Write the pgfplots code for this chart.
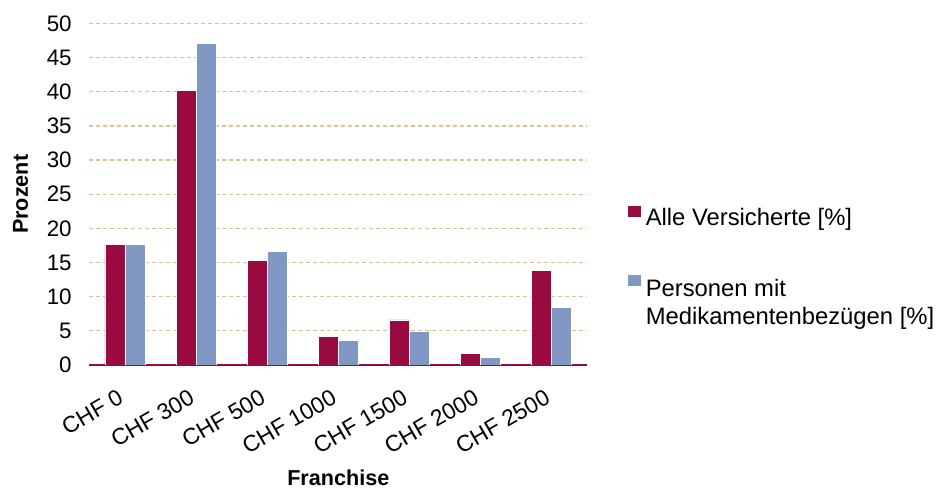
\documentclass[border=0pt]{standalone}
\usepackage{fontspec}
\setmainfont{Liberation Sans}
\usepackage{pgfplots}
\pgfplotsset{compat=1.18}
\definecolor{cRed}{HTML}{990A40}
\definecolor{cBlue}{HTML}{8298C4}
\definecolor{cGrid}{HTML}{D9C197}
\begin{document}
\begin{tikzpicture}[font=\fontsize{11}{13}\selectfont]
\begin{axis}[
  set layers,
  at={(0,0)}, anchor=south west, scale only axis,
  width=249pt, height=170.75pt,
  ybar=0pt, bar width=10pt,
  xmin=-0.5, xmax=6.5, ymin=0, ymax=50,
  xtick={0,1,2,3,4,5,6},
  xticklabels={CHF 0,CHF 300,CHF 500,CHF 1000,CHF 1500,CHF 2000,CHF 2500},
  ytick={0,5,...,50},
  major tick length=0pt,
  axis x line*=bottom, axis y line*=left,
  x axis line style={draw=cRed, line width=0.7pt, -, on layer=axis foreground},
  y axis line style={draw=none},
  ymajorgrids,
  grid style={cGrid, dash pattern=on 2pt off 1.5pt, line width=0.6pt},
  xticklabel style={xshift=-4pt, yshift=-11.5pt, rotate=30, anchor=north east, inner sep=0pt, font=\fontsize{11.4}{13}\selectfont},
  yticklabel style={anchor=east, inner sep=0pt, xshift=-8.6pt, font=\fontsize{11.2}{13}\selectfont},
  /pgf/number format/assume math mode=true,
  ylabel={\bfseries Prozent},
  ylabel style={at={(axis description cs:0,0.5)}, anchor=center, yshift=34.4pt, font=\fontsize{10.8}{12}\selectfont},
  xlabel={\bfseries Franchise},
  xlabel style={at={(axis description cs:0.5,0)}, anchor=center, yshift=-56.5pt, font=\fontsize{10.8}{12}\selectfont},
  legend cell align=left,
  legend style={at={(axis description cs:1.0817,0.4688)}, anchor=north west,
    draw=none, fill=none, inner sep=0pt, row sep=21pt, column sep=1pt,
    font=\fontsize{11.9}{14}\selectfont,
    nodes={inner sep=1.5pt}},
  legend image code/.code={\fill[#1,draw=none] (0pt,0.8pt) rectangle (6.2pt,6.3pt);},
]
\addplot[fill=cRed, draw=white, line width=0.3pt] coordinates {(0,17.7) (1,40.2) (2,15.3) (3,4.2) (4,6.6) (5,1.7) (6,13.8)};
\addlegendentry{Alle Versicherte [\%]}
\addplot[fill=cBlue, draw=white, line width=0.3pt] coordinates {(0,17.6) (1,47.1) (2,16.6) (3,3.6) (4,4.9) (5,1.1) (6,8.4)};
\addlegendentry{{\begin{tabular}[t]{@{}l@{}}Personen mit\\Medikamentenbezügen [\%]\end{tabular}}}
\end{axis}
\pgfresetboundingbox
\useasboundingbox (-44.65pt,-63.5pt) rectangle (423.85pt,182.5pt);
\end{tikzpicture}
\end{document}
